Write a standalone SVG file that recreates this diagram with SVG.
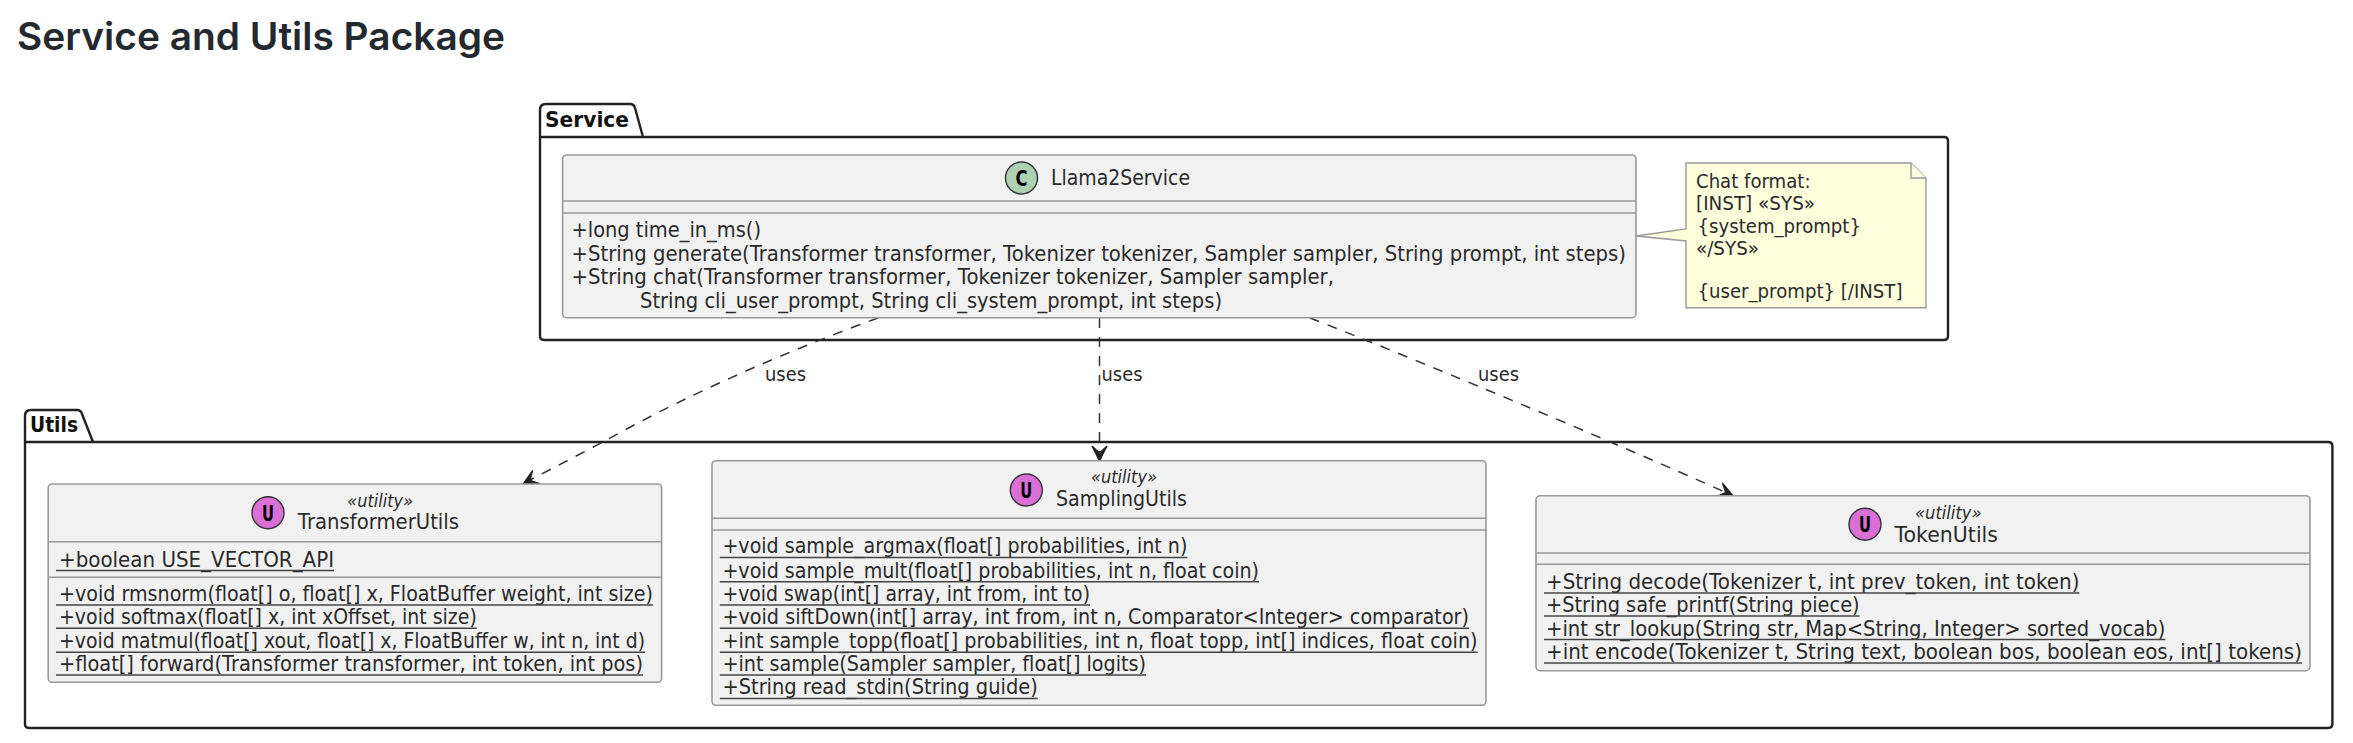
<svg xmlns="http://www.w3.org/2000/svg" width="2353" height="743" viewBox="0 0 2353 743">
<style>
text{font-family:"DejaVu Sans",sans-serif;fill:#2a2a2a;font-size:20.5px}
.title{font-family:Inter,"Liberation Sans",sans-serif;font-size:38px;font-weight:600;fill:#24292f}
.pkg{fill:none;stroke:#222;stroke-width:2.4;stroke-linejoin:round}
.pname{font-weight:700;fill:#111}
.box{fill:#F1F1F1;stroke:#999;stroke-width:1.6}
.div{stroke:#999;stroke-width:1.6}
.u{stroke:#444;stroke-width:1.6}
.sp{font-size:18px;font-style:italic}
.circ{stroke:#333;stroke-width:1.4}
.letter{font-weight:700;font-size:22px;text-anchor:middle;fill:#000}
.note{fill:#FEFFDD;stroke:#999;stroke-width:1.4}
.nt,.lbl{font-size:19px}
.edge{fill:none;stroke:#333;stroke-width:1.5;stroke-dasharray:10 9}
.head{fill:#222;stroke:#222;stroke-width:1.2}
</style>
<rect width="2353" height="743" fill="#fff"/>
<text class="title" x="17" y="50" textLength="488" lengthAdjust="spacingAndGlyphs">Service and Utils Package</text>

<g id="pkg-service">
<path class="pkg" d="M540,110Q540,104 546,104L630,104Q634,104 635,108L643,137L1944,137Q1948,137 1948,141L1948,336Q1948,340 1944,340L544,340Q540,340 540,336Z"/>
<line class="pkg" x1="540" y1="137" x2="643" y2="137"/>
<text class="pname" x="545" y="127" textLength="84" lengthAdjust="spacingAndGlyphs">Service</text>
</g>
<g id="pkg-utils">
<path class="pkg" d="M25,416Q25,410 31,410L77,410Q81,410 82,414L93,442L2328,442Q2332.4,442 2332.4,446L2332.4,724Q2332.4,728 2328,728L29,728Q25,728 25,724Z"/>
<line class="pkg" x1="25" y1="442" x2="93" y2="442"/>
<text class="pname" x="30" y="432" textLength="48" lengthAdjust="spacingAndGlyphs">Utils</text>
</g>

<g id="connectors">
<path class="edge" d="M878,318C790,350 690,393 603,442C580,454 555,467 530,480"/>
<polygon class="head" points="523,484 532.7,470.4 530,480.2 539.7,483.6"/>
<path class="edge" d="M1099.5,318L1099.5,454"/>
<polygon class="head" points="1099.5,461 1092,446 1099.5,453 1107,446"/>
<path class="edge" d="M1310,318C1400,353 1600,436 1727,493"/>
<polygon class="head" points="1733,495.7 1722.3,482.8 1725.7,492.5 1716.3,496.6"/>
<text class="lbl" x="765" y="381" textLength="41" lengthAdjust="spacingAndGlyphs">uses</text>
<text class="lbl" x="1101.5" y="381" textLength="41" lengthAdjust="spacingAndGlyphs">uses</text>
<text class="lbl" x="1478" y="381" textLength="41" lengthAdjust="spacingAndGlyphs">uses</text>
</g>

<g id="Llama2Service">
<rect class="box" x="562.6" y="155" width="1073.4" height="162.7" rx="4"/>
<line class="div" x1="562.6" y1="201" x2="1636" y2="201"/>
<line class="div" x1="562.6" y1="213" x2="1636" y2="213"/>
<ellipse class="circ" cx="1021.5" cy="178" rx="16" ry="16" fill="#ADD1B2"/>
<text class="letter" x="1021.5" y="186" textLength="12" lengthAdjust="spacingAndGlyphs">C</text>
<text x="1051" y="185" textLength="139" lengthAdjust="spacingAndGlyphs">Llama2Service</text>
<text x="571.5" y="237" textLength="189.5" lengthAdjust="spacingAndGlyphs">+long time_in_ms()</text>
<text x="571.5" y="260.5" textLength="1054.5" lengthAdjust="spacingAndGlyphs">+String generate(Transformer transformer, Tokenizer tokenizer, Sampler sampler, String prompt, int steps)</text>
<text x="571.5" y="284" textLength="762.5" lengthAdjust="spacingAndGlyphs">+String chat(Transformer transformer, Tokenizer tokenizer, Sampler sampler,</text>
<text x="640" y="307.5" textLength="582" lengthAdjust="spacingAndGlyphs">String cli_user_prompt, String cli_system_prompt, int steps)</text>
</g>

<g id="note-chat-format">
<path class="note" d="M1686,163L1911,163L1926,178L1926,307.7L1686,307.7L1686,241L1636,236L1686,229Z"/>
<path class="note" d="M1911,163L1911,178L1926,178"/>
<text class="nt" x="1696" y="188" textLength="114.5" lengthAdjust="spacingAndGlyphs">Chat format:</text>
<text class="nt" x="1696" y="210" textLength="119" lengthAdjust="spacingAndGlyphs">[INST] «SYS»</text>
<text class="nt" x="1697.5" y="232.5" textLength="163.5" lengthAdjust="spacingAndGlyphs">{system_prompt}</text>
<text class="nt" x="1696" y="255" textLength="63" lengthAdjust="spacingAndGlyphs">«/SYS»</text>
<text class="nt" x="1697.5" y="298" textLength="205" lengthAdjust="spacingAndGlyphs">{user_prompt} [/INST]</text>
</g>

<g id="TransformerUtils">
<rect class="box" x="48.2" y="484" width="613.4" height="198.3" rx="4"/>
<line class="div" x1="48.2" y1="541.7" x2="661.6" y2="541.7"/>
<line class="div" x1="48.2" y1="577.3" x2="661.6" y2="577.3"/>
<ellipse class="circ" cx="268" cy="512.7" rx="16" ry="16" fill="#DA70D6"/>
<text class="letter" x="268" y="520.7" textLength="12" lengthAdjust="spacingAndGlyphs">U</text>
<text class="sp" x="347.3" y="507" textLength="65.7" lengthAdjust="spacingAndGlyphs">«utility»</text>
<text x="297.8" y="529" textLength="161.2" lengthAdjust="spacingAndGlyphs">TransformerUtils</text>
<text x="59" y="566.5" textLength="275" lengthAdjust="spacingAndGlyphs">+boolean USE_VECTOR_API</text>
<line class="u" x1="56" y1="570.5" x2="334" y2="570.5"/>
<text x="59" y="600.5" textLength="594" lengthAdjust="spacingAndGlyphs">+void rmsnorm(float[] o, float[] x, FloatBuffer weight, int size)</text>
<line class="u" x1="56" y1="605" x2="653" y2="605"/>
<text x="59" y="624" textLength="417.8" lengthAdjust="spacingAndGlyphs">+void softmax(float[] x, int xOffset, int size)</text>
<line class="u" x1="56" y1="628.3" x2="476.8" y2="628.3"/>
<text x="59" y="648" textLength="586" lengthAdjust="spacingAndGlyphs">+void matmul(float[] xout, float[] x, FloatBuffer w, int n, int d)</text>
<line class="u" x1="56" y1="652.3" x2="645" y2="652.3"/>
<text x="59" y="671" textLength="584" lengthAdjust="spacingAndGlyphs">+float[] forward(Transformer transformer, int token, int pos)</text>
<line class="u" x1="56" y1="675" x2="643" y2="675"/>
</g>

<g id="SamplingUtils">
<rect class="box" x="712" y="460.7" width="774" height="244.6" rx="4"/>
<line class="div" x1="712" y1="518.3" x2="1486" y2="518.3"/>
<line class="div" x1="712" y1="530" x2="1486" y2="530"/>
<ellipse class="circ" cx="1026.3" cy="490" rx="16" ry="16" fill="#DA70D6"/>
<text class="letter" x="1026.3" y="498" textLength="12" lengthAdjust="spacingAndGlyphs">U</text>
<text class="sp" x="1091" y="483" textLength="66" lengthAdjust="spacingAndGlyphs">«utility»</text>
<text x="1056" y="506" textLength="131" lengthAdjust="spacingAndGlyphs">SamplingUtils</text>
<text x="722.4" y="553.3" textLength="465" lengthAdjust="spacingAndGlyphs">+void sample_argmax(float[] probabilities, int n)</text>
<line class="u" x1="719.8" y1="557.5" x2="1187.4" y2="557.5"/>
<text x="722.4" y="577.5" textLength="536.6" lengthAdjust="spacingAndGlyphs">+void sample_mult(float[] probabilities, int n, float coin)</text>
<line class="u" x1="719.8" y1="581.7" x2="1259" y2="581.7"/>
<text x="722.4" y="601" textLength="367.6" lengthAdjust="spacingAndGlyphs">+void swap(int[] array, int from, int to)</text>
<line class="u" x1="719.8" y1="605" x2="1090" y2="605"/>
<text x="722.4" y="624" textLength="746.6" lengthAdjust="spacingAndGlyphs">+void siftDown(int[] array, int from, int n, Comparator&lt;Integer&gt; comparator)</text>
<line class="u" x1="719.8" y1="628.3" x2="1469" y2="628.3"/>
<text x="722.4" y="648" textLength="755.2" lengthAdjust="spacingAndGlyphs">+int sample_topp(float[] probabilities, int n, float topp, int[] indices, float coin)</text>
<line class="u" x1="719.8" y1="652.3" x2="1477.6" y2="652.3"/>
<text x="722.4" y="671" textLength="423.6" lengthAdjust="spacingAndGlyphs">+int sample(Sampler sampler, float[] logits)</text>
<line class="u" x1="719.8" y1="675" x2="1146" y2="675"/>
<text x="722.4" y="694.3" textLength="315.4" lengthAdjust="spacingAndGlyphs">+String read_stdin(String guide)</text>
<line class="u" x1="719.8" y1="698.5" x2="1037.8" y2="698.5"/>
</g>

<g id="TokenUtils">
<rect class="box" x="1536" y="495.7" width="774" height="175" rx="4"/>
<line class="div" x1="1536" y1="553" x2="2310" y2="553"/>
<line class="div" x1="1536" y1="564.3" x2="2310" y2="564.3"/>
<ellipse class="circ" cx="1865" cy="524.3" rx="16" ry="16" fill="#DA70D6"/>
<text class="letter" x="1865" y="532.3" textLength="12" lengthAdjust="spacingAndGlyphs">U</text>
<text class="sp" x="1915" y="519" textLength="66.5" lengthAdjust="spacingAndGlyphs">«utility»</text>
<text x="1894.5" y="541.7" textLength="103.5" lengthAdjust="spacingAndGlyphs">TokenUtils</text>
<text x="1546" y="589" textLength="533.4" lengthAdjust="spacingAndGlyphs">+String decode(Tokenizer t, int prev_token, int token)</text>
<line class="u" x1="1544" y1="593" x2="2079.4" y2="593"/>
<text x="1546" y="612" textLength="313.6" lengthAdjust="spacingAndGlyphs">+String safe_printf(String piece)</text>
<line class="u" x1="1544" y1="616" x2="1859.6" y2="616"/>
<text x="1546" y="635.5" textLength="619.4" lengthAdjust="spacingAndGlyphs">+int str_lookup(String str, Map&lt;String, Integer&gt; sorted_vocab)</text>
<line class="u" x1="1544" y1="639.5" x2="2165.4" y2="639.5"/>
<text x="1546" y="659" textLength="756" lengthAdjust="spacingAndGlyphs">+int encode(Tokenizer t, String text, boolean bos, boolean eos, int[] tokens)</text>
<line class="u" x1="1544" y1="663" x2="2302" y2="663"/>
</g>
</svg>
